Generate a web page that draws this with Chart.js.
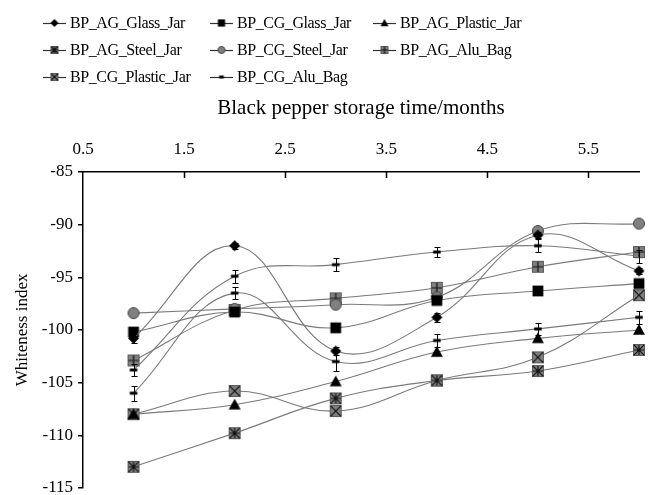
<!DOCTYPE html>
<html>
<head>
<meta charset="utf-8">
<script src="https://cdn.jsdelivr.net/npm/chart.js@4.4.1/dist/chart.umd.min.js"></script>
<style>
  body { margin: 0; background: #fff; }
  #wrap { position: relative; width: 652px; height: 495px; }
  #legend .item { position: absolute; height: 20px; display: flex; align-items: center;
    font: 16px 'Liberation Serif', serif; letter-spacing: -0.4px; color: #000; white-space: nowrap; }
  #legend canvas { margin-right: 4px; }
</style>
</head>
<body>
<div id="wrap">
  <canvas id="chart" width="652" height="495"></canvas>
  <div id="legend"></div>
</div>
<script>
// storage time (months) and axis ticks
var months = [1, 2, 3, 4, 5, 6];
var xTicks = [0.5, 1.5, 2.5, 3.5, 4.5, 5.5];
var yTicks = [-115, -110, -105, -100, -95, -90, -85];

// whiteness index per sample
var agGlassJar   = [-100.8, -92.0, -102.0, -98.8, -91.0, -94.4];
var cgGlassJar   = [-100.2, -98.3, -99.8, -97.2, -96.3, -95.6];
var agPlasticJar = [-108.0, -107.1, -104.9, -102.1, -100.8, -100.0];
var agSteelJar   = [-113.0, -109.8, -106.5, -104.8, -103.9, -101.9];
var cgSteelJar   = [-98.4, -98.0, -97.6, -96.9, -90.6, -89.9];
var agAluBag     = [-102.9, -98.1, -97.0, -96.0, -94.0, -92.6];
var cgPlasticJar = [-108.0, -105.8, -107.7, -104.8, -102.6, -96.7];
var cgAluBag     = [-103.8, -94.9, -93.8, -92.6, -92.0, -93.0];
var extraSeries  = [-106.0, -96.5, -103.0, -101.0, -99.9, -98.8];

var cgAluErr  = [0.6, 0.6, 0.6, 0.5, 0.6, 0.6];
var extraErr  = [0.7, 0.6, 0.9, 0.6, 0.6, 0.6];
var agGlassErr = [0.4, 0.3, 0.4, 0.4, 0.3, 0.3];

function marker(kind, s) {
  var c = document.createElement('canvas');
  c.width = s + 2; c.height = s + 2;
  var g = c.getContext('2d');
  var m = (s + 2) / 2, h = s / 2;
  g.lineWidth = 1;
  if (kind === 'diamond') {
    g.fillStyle = '#000';
    g.beginPath(); g.moveTo(m, m - h); g.lineTo(m + h, m); g.lineTo(m, m + h); g.lineTo(m - h, m); g.closePath(); g.fill();
  } else if (kind === 'square') {
    g.fillStyle = '#000'; g.fillRect(m - h * 0.9, m - h * 0.9, h * 1.8, h * 1.8);
  } else if (kind === 'triangle') {
    g.fillStyle = '#000';
    g.beginPath(); g.moveTo(m, m - h); g.lineTo(m + h, m + h * 0.8); g.lineTo(m - h, m + h * 0.8); g.closePath(); g.fill();
  } else if (kind === 'circle') {
    g.fillStyle = '#808080'; g.strokeStyle = '#444';
    g.beginPath(); g.arc(m, m, h - 0.5, 0, Math.PI * 2); g.fill(); g.stroke();
  } else if (kind === 'dash') {
    g.fillStyle = '#000'; g.fillRect(m - h * 0.75, m - 1.5, h * 1.5, 3);
  } else {
    g.fillStyle = '#7f7f7f'; g.strokeStyle = '#5a5a5a';
    g.fillRect(m - h, m - h, s, s); g.strokeRect(m - h + 0.5, m - h + 0.5, s - 1, s - 1);
    g.strokeStyle = '#111'; g.lineWidth = 1.2;
    var k = h * 0.85;
    g.beginPath();
    if (kind === 'plusBox' || kind === 'starBox') { g.moveTo(m, m - k); g.lineTo(m, m + k); g.moveTo(m - k, m); g.lineTo(m + k, m); }
    if (kind === 'xBox' || kind === 'starBox') { g.moveTo(m - k, m - k); g.lineTo(m + k, m + k); g.moveTo(m + k, m - k); g.lineTo(m - k, m + k); }
    g.stroke();
  }
  return c;
}

var series = [
  { name: 'BP_AG_Glass_Jar',   data: agGlassJar,   kind: 'diamond',  size: 11, err: agGlassErr },
  { name: 'BP_CG_Glass_Jar',   data: cgGlassJar,   kind: 'square',   size: 12 },
  { name: 'BP_AG_Plastic_Jar', data: agPlasticJar, kind: 'triangle', size: 12 },
  { name: 'BP_AG_Steel_Jar',   data: agSteelJar,   kind: 'starBox',  size: 12 },
  { name: 'BP_CG_Steel_Jar',   data: cgSteelJar,   kind: 'circle',   size: 12 },
  { name: 'BP_AG_Alu_Bag',     data: agAluBag,     kind: 'plusBox',  size: 12 },
  { name: 'BP_CG_Plastic_Jar', data: cgPlasticJar, kind: 'xBox',     size: 12 },
  { name: 'BP_CG_Alu_Bag',     data: cgAluBag,     kind: 'dash',     size: 10, err: cgAluErr },
  { name: '',                  data: extraSeries,  kind: 'dash',     size: 10, err: extraErr, hidden: true }
];

var datasets = series.map(function(s) {
  return {
    label: s.name,
    data: months.map(function(m, i) { return { x: m, y: s.data[i] }; }),
    borderColor: '#7a7a7a', borderWidth: 1.1, tension: 0.4,
    pointStyle: marker(s.kind, s.size), pointRadius: 6,
    fill: false, clip: false
  };
});

var errorBars = {
  id: 'errorBars',
  afterDatasetsDraw: function(chart) {
    var ctx = chart.ctx, xs = chart.scales.x, ys = chart.scales.y;
    ctx.save(); ctx.strokeStyle = '#000'; ctx.lineWidth = 1;
    series.forEach(function(s) {
      if (!s.err) return;
      months.forEach(function(m, i) {
        var x = Math.round(xs.getPixelForValue(m)) + 0.5;
        var y1 = Math.round(ys.getPixelForValue(s.data[i] + s.err[i])) + 0.5;
        var y2 = Math.round(ys.getPixelForValue(s.data[i] - s.err[i])) + 0.5;
        ctx.beginPath();
        ctx.moveTo(x, y1); ctx.lineTo(x, y2);
        ctx.moveTo(x - 3, y1); ctx.lineTo(x + 3, y1);
        ctx.moveTo(x - 3, y2); ctx.lineTo(x + 3, y2);
        ctx.stroke();
      });
    });
    ctx.restore();
  }
};

// tick marks on the top axis point into the plot
var innerTicks = {
  id: 'innerTicks',
  afterDraw: function(chart) {
    var ctx = chart.ctx, xs = chart.scales.x, top = chart.chartArea.top;
    ctx.save(); ctx.strokeStyle = '#000'; ctx.lineWidth = 1.5;
    xTicks.slice(1).forEach(function(v) {
      var x = Math.round(xs.getPixelForValue(v)) + 0.5;
      ctx.beginPath(); ctx.moveTo(x, top); ctx.lineTo(x, top + 6); ctx.stroke();
    });
    ctx.restore();
  }
};

Chart.defaults.font.family = "'Liberation Serif', serif";
Chart.defaults.font.size = 17;
Chart.defaults.color = '#000';

new Chart(document.getElementById('chart'), {
  type: 'line',
  data: { datasets: datasets },
  plugins: [errorBars, innerTicks],
  options: {
    responsive: false, animation: false,
    layout: { padding: { top: 0, right: 13, bottom: 7, left: 0 } },
    plugins: { legend: { display: false }, tooltip: { enabled: false } },
    scales: {
      x: {
        type: 'linear', position: 'top', min: 0.5, max: 6,
        afterBuildTicks: function(ax) { ax.ticks = xTicks.map(function(v) { return { value: v }; }); },
        afterFit: function(ax) { ax.height = 172; },
        ticks: { padding: 12, callback: function(v) { return v.toFixed(1); } },
        grid: { drawOnChartArea: false, drawTicks: false },
        border: { color: '#000', width: 1.5 },
        title: { display: true, text: 'Black pepper storage time/months', font: { size: 21 }, padding: { top: 96, bottom: 0 } }
      },
      y: {
        type: 'linear', min: -115, max: -85,
        afterBuildTicks: function(ax) { ax.ticks = yTicks.map(function(v) { return { value: v }; }); },
        afterFit: function(ax) { ax.width = 83; ax.paddingBottom = 0; ax.paddingTop = 0; },
        ticks: { padding: 5 },
        grid: { drawOnChartArea: false, drawTicks: true, tickLength: 5, color: '#000', lineWidth: 1.5 },
        border: { color: '#000', width: 1.5 },
        title: { display: true, text: 'Whiteness index', padding: { top: 12, bottom: 0 } }
      }
    }
  }
});

// legend laid out in three columns like the original figure
var legendCols = [43, 210, 373];
var legendRows = [23, 50, 77];
var legend = document.getElementById('legend');
series.filter(function(s) { return !s.hidden; }).forEach(function(s, i) {
  var item = document.createElement('div');
  item.className = 'item';
  item.style.left = legendCols[i % 3] + 'px';
  item.style.top = (legendRows[Math.floor(i / 3)] - 10) + 'px';
  var c = document.createElement('canvas');
  c.width = 23; c.height = 12;
  var g = c.getContext('2d');
  g.strokeStyle = '#333'; g.lineWidth = 1.2;
  g.beginPath(); g.moveTo(0, 6.5); g.lineTo(23, 6.5); g.stroke();
  var mk = marker(s.kind, s.kind === 'dash' ? 6 : 8);
  g.drawImage(mk, (23 - mk.width) / 2, (12 - mk.height) / 2);
  item.appendChild(c);
  item.appendChild(document.createTextNode(s.name));
  legend.appendChild(item);
});
</script>
</body>
</html>
